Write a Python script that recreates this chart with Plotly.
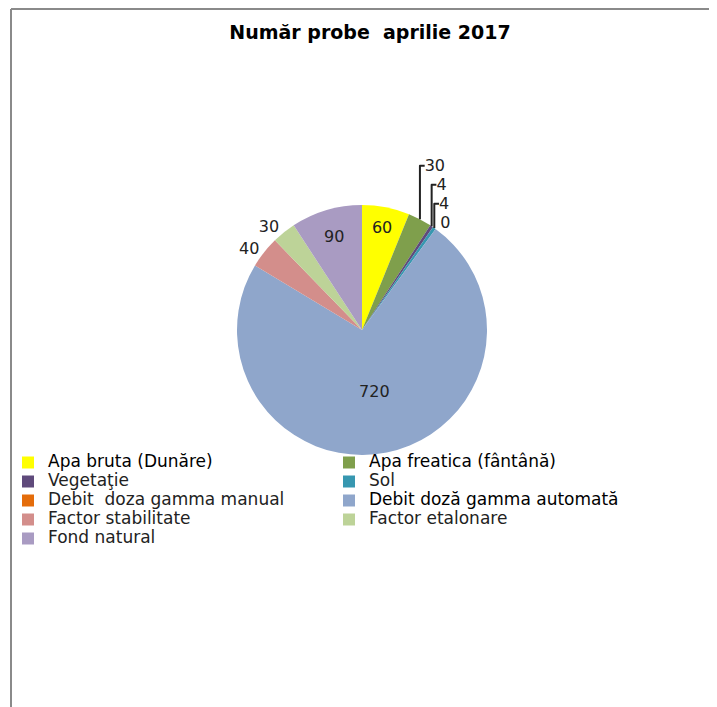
import plotly.graph_objects as go

title_text = "Număr probe  aprilie 2017"
categories = [
    "Apa bruta (Dunăre)",
    "Apa freatica (fântână)",
    "Vegetaţie",
    "Sol",
    "Debit  doza gamma manual",
    "Debit doză gamma automată",
    "Factor stabilitate",
    "Factor etalonare",
    "Fond natural",
]
values = [60, 30, 4, 4, 0, 720, 40, 30, 90]
colors = ["#FFFF00", "#7F9F4C", "#5F4A7B", "#3797B0", "#E46C0A",
          "#8FA6CB", "#D38E8B", "#BDD398", "#A99BC2"]
text_pos = ["inside", "outside", "outside", "outside", "outside",
            "inside", "outside", "outside", "inside"]
big_items = {"Apa bruta (Dunăre)", "Apa freatica (fântână)", "Debit doză gamma automată"}

legend_names = []
for c in categories:
    if c in big_items:
        legend_names.append(f"<span style='font-size:17px;color:#000'>{c}</span>")
    else:
        legend_names.append(f"<span style='font-size:17px;color:#222'>{c}</span>")

# page body has an 8px margin; figure coordinates below are window - 8
W, H = 709, 699
cx, cy, r = 354, 322, 125

fig = go.Figure(go.Pie(
    labels=legend_names,
    values=values,
    sort=False,
    direction="clockwise",
    rotation=0,
    marker=dict(colors=colors, line=dict(width=0)),
    textinfo="value",
    textposition=text_pos,
    insidetextorientation="horizontal",
    textfont=dict(family="DejaVu Sans", size=16, color="#222"),
    domain=dict(x=[(cx - r) / W, (cx + r) / W], y=[(H - cy - r) / H, (H - cy + r) / H]),
    hoverinfo="skip",
))

fig.update_layout(
    width=W, height=H,
    margin=dict(l=0, r=0, t=0, b=0),
    paper_bgcolor="white",
    plot_bgcolor="white",
    title=dict(text=f"<b>{title_text}</b>", x=362 / W, xanchor="center",
               y=1 - 24 / H, yanchor="middle",
               font=dict(family="DejaVu Sans", size=19, color="#000")),
    showlegend=True,
    legend=dict(orientation="h", x=0, xanchor="left", y=1 - 440 / H, yanchor="top",
                entrywidth=276, entrywidthmode="pixels",
                font=dict(family="DejaVu Sans", size=11, color="#000"),
                bgcolor="rgba(0,0,0,0)", traceorder="normal"),
    shapes=[
        dict(type="line", xref="paper", yref="paper", x0=3 / W, x1=1, y0=1 - 1 / H, y1=1 - 1 / H,
             line=dict(color="#8a8a8a", width=2)),
        dict(type="line", xref="paper", yref="paper", x0=3 / W, x1=3 / W, y0=0, y1=1 - 1 / H,
             line=dict(color="#8a8a8a", width=2)),
    ],
)

fig.write_html("out.html")
